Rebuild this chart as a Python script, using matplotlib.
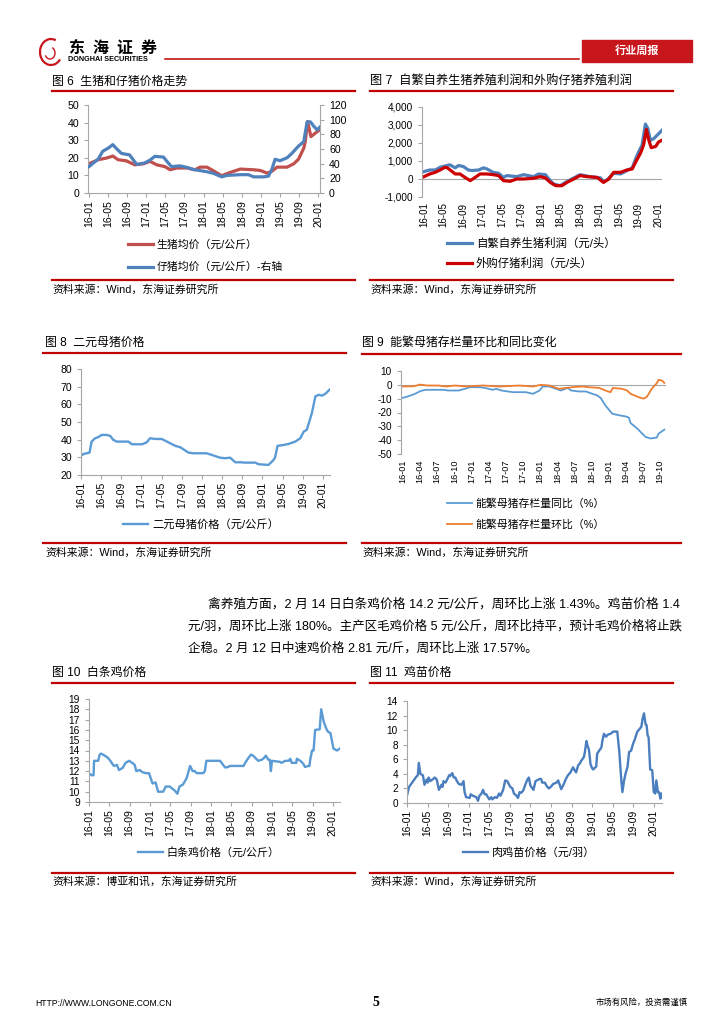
import matplotlib
matplotlib.use("Agg")
import matplotlib.pyplot as plt
from matplotlib.lines import Line2D
from matplotlib.patches import Rectangle, Arc

plt.rcParams['font.family'] = ['Liberation Sans', 'Noto Sans CJK SC']
plt.rcParams['axes.unicode_minus'] = False

W, H = 724, 1024
RED = '#C00000'
AXIS = '#A6A6A6'

# ---------------- data (x = months since 2016-01) ----------------
ticks4 = ['16-01', '16-05', '16-09', '17-01', '17-05', '17-09', '18-01',
          '18-05', '18-09', '19-01', '19-05', '19-09', '20-01']
ticks4_pos = [0, 4, 8, 12, 16, 20, 24, 28, 32, 36, 40, 44, 48]
ticks3 = ['16-01', '16-04', '16-07', '16-10', '17-01', '17-04', '17-07',
          '17-10', '18-01', '18-04', '18-07', '18-10', '19-01', '19-04',
          '19-07', '19-10']
ticks3_pos = [0, 3, 6, 9, 12, 15, 18, 21, 24, 27, 30, 33, 36, 39, 42, 45]

# fig 6
hog_m = [0, 1.9, 3.6, 5, 6.1, 7.8, 9.6, 11.4, 12.8, 14.2, 15.9, 17, 18.4,
         20.5, 22.2, 23.3, 24.7, 25.7, 27.8, 29.2, 31.7, 34.5, 35.9, 37.3,
         38.3, 39.4, 41.5, 42.9, 43.9, 45, 45.3, 45.8, 46.5, 47.4, 48.4]
hog_price = [16.6, 18.9, 19.8, 21, 18.9, 18.3, 16, 16.6, 18, 16, 15, 13.2,
             14.2, 14.2, 13.2, 14.7, 14.7, 13.2, 9.8, 11.3, 13.6, 13.2, 12.8,
             11.3, 12.3, 14.7, 14.7, 16.6, 19.2, 25.5, 29, 40.6, 32, 34, 36]
piglet_m = [0, 1.9, 2.9, 4, 5, 5.7, 6.8, 8.5, 10, 11.7, 12.8, 13.8, 15.6,
            16.6, 17.3, 19, 20.5, 21.9, 24.7, 26, 27.8, 28.9, 31.7, 33.4,
            34.5, 36.6, 37.6, 38.3, 39, 40, 41.5, 42.5, 43.9, 45, 45.7, 46.4,
            47.1, 47.8, 48.4]
piglet_price = [36, 46, 57, 61, 66, 61, 54, 52, 39, 41, 45, 50, 49, 41, 36,
                37, 35, 32, 29, 27, 22, 24, 25, 25, 22, 22, 23, 32, 46, 44,
                48, 54, 64, 70, 97, 97, 91, 86, 90]

# fig 7
self_m = [0, 1.2, 2.3, 3.3, 4.7, 5.3, 6.4, 7.1, 8.1, 9.1, 9.8, 11.2, 12.2,
          12.9, 14.2, 15.3, 16.3, 17, 19, 20.4, 22.5, 23.5, 24.9, 25.9, 26.6,
          27.9, 29, 30.3, 32, 34.1, 36.2, 36.8, 37.5, 38.9, 40.3, 41.6, 42.7,
          43.4, 44, 44.7, 45.4, 45.9, 46.4, 47.1, 47.8, 48.8]
self_profit = [410, 500, 500, 650, 750, 790, 620, 750, 690, 500, 470, 500,
               620, 560, 370, 320, 90, 190, 130, 240, 130, 280, 240, -90,
               -280, -370, -190, 0, 240, 130, 60, -150, -60, 320, 280, 470,
               620, 1120, 1500, 1870, 3050, 2800, 2150, 2240, 2430, 2710]
buy_m = [0, 1.2, 2.3, 3.3, 4.3, 4.8, 5.7, 6.4, 7.4, 8.4, 9.5, 10.5, 11.5,
         12.9, 14.2, 15.3, 16.3, 17.7, 19, 20.4, 22.5, 23.8, 24.9, 25.9, 27,
         28.3, 29.3, 30.7, 32, 33.4, 35.5, 36.8, 37.9, 38.9, 40.3, 41.6, 42.7,
         43.4, 44.4, 45, 45.6, 46.1, 46.6, 47.5, 48.1, 48.8]
buy_profit = [130, 280, 370, 500, 650, 620, 430, 280, 280, 90, -90, 90, 280,
              280, 240, 190, -90, -130, 0, 0, 40, 130, 60, -190, -370, -370,
              -190, 0, 190, 130, 90, -190, 0, 370, 370, 500, 560, 940, 1440,
              1870, 2750, 2150, 1740, 1810, 2060, 2150]

# fig 8
sow_m = [0, 0.5, 1.7, 2.1, 2.8, 3.4, 4.1, 5.1, 5.8, 6.4, 7.1, 9.4, 10.1,
         12.1, 13, 13.7, 14.7, 16, 17.4, 18.7, 19.7, 21.3, 22.3, 24.9, 25.9,
         27.6, 28.6, 29.6, 30.6, 31.6, 32.6, 34.6, 35.2, 37.2, 38.2, 38.5, 39,
         40.2, 41.2, 42.5, 43.5, 44.2, 44.8, 45.8, 46.5, 47.2, 47.8, 48.5, 49.3]
sow_price = [30.8, 31.9, 32.7, 38.9, 40.8, 41.4, 42.7, 42.7, 42.1, 39.9,
             38.9, 38.9, 37.4, 37.4, 38.4, 40.8, 40.4, 40.4, 38.4, 36.5, 35.7,
             32.7, 32.3, 32.3, 31.4, 29.8, 29.5, 29.8, 27.2, 27.2, 27.0, 27.0,
             26.1, 25.7, 28.5, 30.0, 36.5, 37.0, 37.6, 38.9, 40.8, 44.6, 45.6,
             55.0, 64.5, 65.4, 64.9, 66.0, 68.3]

# fig 9
yoy_m = [0, 1, 2.1, 3, 3.9, 5.9, 7.1, 7.9, 9.7, 10.8, 11.7, 13.4, 14.3, 15.7,
         16.3, 17.2, 19.2, 21.5, 22.7, 23.9, 24.4, 25.6, 26.8, 27.6, 28.8,
         29.4, 30.8, 32, 32.8, 34, 34.6, 35.4, 36.6, 37.8, 38.9, 39.5, 39.8,
         41, 42.4, 43.3, 44.4, 44.7, 45.7]
yoy = [-9.4, -8.2, -6.5, -4.6, -3.6, -3.6, -3.6, -4.1, -4.1, -2.9, -1.7,
       -1.7, -2.2, -3.6, -2.9, -4.1, -5.3, -5.3, -6.5, -4.1, -1.2, -1.2, -2.9,
       -4.1, -2.2, -4.1, -4.8, -4.8, -6.0, -7.7, -9.6, -14.9, -20.9, -22.0,
       -22.8, -23.7, -27.6, -31.7, -37.6, -38.8, -38.1, -35.3, -32.4]
mom_m = [0, 1.9, 3, 4.2, 6.2, 7.6, 9.1, 11.1, 14, 16.9, 20.4, 22.7, 24.1,
         25.6, 27.3, 28.5, 29.6, 31.4, 32.5, 34.3, 35.7, 36.3, 36.7, 38.3,
         39.2, 39.8, 41.2, 42.1, 42.7, 43.5, 44.4, 44.7, 45.3, 45.7]
mom = [-1.2, -1.0, 0.2, -0.5, -0.5, -1.2, -0.5, -1.2, -0.5, -1.2, -0.5, -1.2,
       0.0, -0.5, -2.9, -2.2, -1.7, -1.2, -1.7, -2.2, -4.6, -5.3, -2.2, -2.9,
       -4.1, -6.5, -8.9, -10.0, -8.4, -2.9, 1.2, 3.6, 3.1, 1.4]

# fig 10
broiler_m = [0, 0.5, 0.9, 1.0, 1.8, 2.1, 2.4, 3.1, 3.7, 4.2, 4.6, 4.9, 5.5,
             5.9, 6.6, 7.2, 7.9, 8.5, 9.0, 9.3, 10.0, 10.5, 11.2, 11.8, 12.5,
             13.1, 13.6, 14.6, 15.1, 15.9, 16.4, 16.9, 17.4, 17.8, 18.5, 19.2,
             19.9, 20.4, 20.8, 21.2, 22.5, 22.8, 23.1, 25.8, 26.4, 26.8, 27.4,
             27.7, 30.4, 31.0, 31.4, 31.9, 32.3, 32.9, 33.3, 34.0, 34.5, 34.8,
             35.3, 35.6, 35.8, 36.0, 37.6, 37.9, 38.6, 39.3, 39.6, 39.9, 40.8,
             40.9, 41.6, 42.2, 42.5, 43.2, 43.4, 43.5, 43.9, 44.2, 44.5, 45.4,
             45.7, 46.2, 46.8, 47.1, 47.5, 47.8, 48.1, 48.8, 49.1, 49.4]
broiler_price = [11.8, 11.6, 11.6, 13.0, 13.0, 13.6, 13.7, 13.5, 13.3, 13.0,
                 12.7, 12.5, 12.6, 12.1, 12.3, 12.8, 13.0, 12.8, 12.6, 12.0,
                 12.1, 11.9, 11.8, 11.8, 10.8, 10.9, 10.0, 10.0, 10.5, 10.5,
                 10.3, 10.1, 9.8, 10.5, 10.7, 11.3, 12.5, 12.0, 12.0, 11.8,
                 11.8, 12.0, 13.0, 13.0, 12.6, 12.35, 12.4, 12.5, 12.5, 13.0,
                 13.3, 13.6, 13.5, 13.2, 13.0, 13.1, 13.3, 13.5, 13.1, 13.1,
                 12.0, 13.0, 12.9, 12.8, 13.0, 13.0, 13.2, 12.8, 12.8, 13.2,
                 13.0, 12.7, 12.4, 12.5, 12.5, 13.0, 14.0, 14.0, 16.0, 16.05,
                 18.0, 16.8, 16.0, 15.8, 15.7, 15.0, 14.2, 14.0, 14.1, 14.2]

# fig 11
chick_m = [0.0, 0.4, 0.8, 1.3, 1.8, 2.1, 2.3, 2.6, 3.1, 3.4, 3.8, 4.0, 4.2,
           4.5, 5.1, 5.4, 5.8, 6.0, 6.2, 6.7, 6.9, 7.1, 7.5, 7.8, 8.2, 8.4,
           8.8, 9.1, 9.4, 9.7, 10.1, 10.6, 11.0, 11.2, 11.5, 12.2, 12.4, 12.8,
           13.5, 13.8, 14.1, 14.5, 14.8, 15.1, 15.4, 16.0, 16.4, 16.6, 17.1,
           17.5, 17.9, 18.2, 18.7, 19.1, 19.5, 20.1, 20.5, 20.8, 21.3, 21.6,
           21.9, 22.2, 22.6, 23.0, 23.4, 23.7, 24.0, 24.4, 24.6, 25.0, 25.8,
           26.1, 26.3, 26.8, 27.2, 27.6, 28.1, 28.4, 29.1, 29.4, 29.7, 30.0,
           30.5, 30.9, 31.3, 31.8, 32.0, 32.3, 32.6, 32.9, 33.3, 33.6, 33.9,
           34.4, 34.6, 34.9, 35.1, 35.4, 35.7, 36.0, 36.2, 36.5, 36.8, 37.0,
           37.5, 37.8, 38.0, 38.3, 38.7, 39.1, 39.6, 40.1, 40.9, 41.3, 41.7,
           41.9, 42.2, 42.5, 42.9, 43.2, 43.6, 44.0, 44.2, 44.8, 45.3, 45.6,
           45.8, 46.1, 46.4, 46.6, 46.8, 47.0, 47.3, 47.7, 48.0, 48.3, 48.5,
           48.8, 49.0, 49.3, 49.5]
chick_price = [1.05, 2.2, 2.6, 3.1, 3.6, 3.8, 5.5, 4.0, 3.8, 2.5, 3.2, 2.8,
               3.5, 3.0, 3.3, 3.5, 3.2, 2.5, 1.8, 2.5, 2.2, 3.0, 2.8, 3.2, 3.8,
               3.7, 4.1, 3.5, 3.5, 3.0, 2.6, 2.5, 3.0, 1.5, 0.8, 0.7, 1.2, 1.0,
               0.8, 0.3, 1.0, 1.3, 1.8, 1.2, 1.2, 0.5, 0.8, 0.5, 0.8, 0.7, 1.3,
               1.0, 1.8, 3.1, 3.0, 2.2, 2.0, 1.3, 1.0, 0.7, 1.5, 1.4, 1.7, 2.5,
               3.2, 3.5, 2.4, 2.0, 1.8, 3.0, 3.3, 3.3, 2.8, 2.8, 2.3, 2.0, 2.3,
               2.6, 2.8, 3.1, 2.5, 1.9, 2.6, 3.3, 3.8, 4.2, 4.5, 4.9, 4.5, 4.2,
               5.2, 5.4, 5.8, 6.3, 7.0, 8.5, 7.9, 7.3, 5.3, 4.8, 4.6, 4.8, 5.0,
               6.8, 7.3, 7.6, 8.5, 9.5, 9.1, 9.4, 9.5, 9.8, 9.8, 7.0, 3.0, 1.5,
               3.0, 4.0, 5.0, 7.0, 7.2, 8.2, 8.5, 9.8, 10.2, 10.5, 11.5, 12.3,
               10.8, 10.7, 9.3, 9.0, 4.6, 4.5, 1.5, 1.3, 3.1, 1.5, 1.5, 0.6,
               1.3]

paragraph = [
    "禽养殖方面，2 月 14 日白条鸡价格 14.2 元/公斤，周环比上涨 1.43%。鸡苗价格 1.4",
    "元/羽，周环比上涨 180%。主产区毛鸡价格 5 元/公斤，周环比持平，预计毛鸡价格将止跌",
    "企稳。2 月 12 日中速鸡价格 2.81 元/斤，周环比上涨 17.57%。",
]
source_wind = "资料来源：Wind，东海证券研究所"
source_boya = "资料来源：博亚和讯，东海证券研究所"

# ---------------- layout helpers ----------------
fig = plt.figure(figsize=(W / 100, H / 100), dpi=100)


def fx(x):
    return x / W


def fy(y):
    return 1 - y / H


def px_axes(l, t, r, b):
    return fig.add_axes([fx(l), fy(b), (r - l) / W, (b - t) / H])


def hline(x1, x2, y, lw=1.6, color=RED):
    fig.add_artist(Line2D([fx(x1), fx(x2)], [fy(y), fy(y)],
                          transform=fig.transFigure, color=color, lw=lw))


def frame(title, tx, ty, x1, x2, line_top, line_bot, src, sy, tfs=8.6):
    fig.text(fx(tx), fy(ty), title, fontsize=tfs, va='center', ha='left')
    hline(x1, x2, line_top)
    hline(x1, x2, line_bot)
    fig.text(fx(tx), fy(sy), src, fontsize=7.8, va='center', ha='left')


def style(ax, xlim, xpos, xlabels, xfs, ylim, yticks, ylabels, yfs,
          zero_line=False):
    ax.set_xlim(xlim)
    ax.set_ylim(ylim)
    ax.set_xticks(xpos)
    ax.set_xticklabels(xlabels, rotation=90, fontsize=xfs)
    ax.set_yticks(yticks)
    ax.set_yticklabels(ylabels, fontsize=yfs)
    for s in ('top', 'right'):
        ax.spines[s].set_visible(False)
    for s in ('left', 'bottom'):
        ax.spines[s].set_color(AXIS)
        ax.spines[s].set_linewidth(0.8)
    ax.tick_params(colors=AXIS, labelcolor='black', length=3, width=0.8)
    ax.tick_params(axis='x', pad=2)
    if zero_line:
        ax.spines['bottom'].set_visible(False)
        ax.axhline(0, color=AXIS, lw=0.8, zorder=1)
        ax.tick_params(axis='x', length=0, pad=4)


def legend(ax, x, y, spacing, fs, handles=None, labels=None):
    kw = dict(loc='upper left', bbox_to_anchor=(fx(x), fy(y)),
              bbox_transform=fig.transFigure, frameon=False, fontsize=fs,
              borderpad=0, borderaxespad=0, handlelength=25 / (fs * 1.389),
              handletextpad=0.35, labelspacing=spacing)
    if handles is None:
        ax.legend(**kw)
    else:
        ax.legend(handles, labels, **kw)


# ---------------- header ----------------
fig.add_artist(Arc((fx(51), fy(52)), 22 / W, 26 / H, theta1=60, theta2=330,
                   transform=fig.transFigure, color='#C8161D', lw=1.6))
fig.add_artist(Arc((fx(50), fy(53)), 10 / W, 12 / H, theta1=200, theta2=60,
                   transform=fig.transFigure, color='#C8161D', lw=1.0))
for i, ch in enumerate("东海证券"):
    fig.text(fx(76 + i * 24.3), fy(48), ch, fontsize=11.5, fontweight='bold',
             ha='center', va='center')
fig.text(fx(68), fy(59.5), "DONGHAI SECURITIES", fontsize=5.2,
         fontweight='bold', ha='left', va='center')
hline(165, 579, 59, lw=1.1)
fig.add_artist(Rectangle((fx(582), fy(62)), 110 / W, 22 / H,
                         transform=fig.transFigure, color='#C8161D'))
fig.text(fx(637), fy(51), "行业周报", fontsize=8, fontweight='bold',
         color='white', ha='center', va='center')

# ---------------- fig 6 ----------------
frame("图 6  生猪和仔猪价格走势", 52, 82, 52, 355, 91, 280, source_wind, 290)
ax6 = px_axes(88, 105, 320, 193)
ax6.plot(hog_m, hog_price, color='#C0504D', lw=2.3, label='生猪均价（元/公斤）')
style(ax6, (-0.2, 48.4), ticks4_pos, ticks4, 7.6, (0, 50),
      [0, 10, 20, 30, 40, 50], ['0', '10', '20', '30', '40', '50'], 7.6)
ax6b = ax6.twinx()
ax6b.plot(piglet_m, piglet_price, color='#4F81BD', lw=2.3,
          label='仔猪均价（元/公斤）-右轴')
ax6b.set_ylim(0, 120)
ax6b.set_yticks([0, 20, 40, 60, 80, 100, 120])
ax6b.set_yticklabels(['0', '20', '40', '60', '80', '100', '120'], fontsize=7.6)
for s in ('top', 'left', 'bottom'):
    ax6b.spines[s].set_visible(False)
ax6b.spines['right'].set_color(AXIS)
ax6b.spines['right'].set_linewidth(0.8)
ax6b.tick_params(colors=AXIS, labelcolor='black', length=3, width=0.8)
h1, l1 = ax6.get_legend_handles_labels()
h2, l2 = ax6b.get_legend_handles_labels()
legend(ax6b, 128, 239, 1.15, 7.8, h1 + h2, l1 + l2)

# ---------------- fig 7 ----------------
frame("图 7  自繁自养生猪养殖利润和外购仔猪养殖利润", 370, 82, 370, 673, 91, 280,
      source_wind, 290, tfs=8.8)
ax7 = px_axes(422, 107, 662, 197)
ax7.plot(self_m, self_profit, color='#4F81BD', lw=2.3, label='自繁自养生猪利润（元/头）')
ax7.plot(buy_m, buy_profit, color='#CC0000', lw=2.3, label='外购仔猪利润（元/头）')
style(ax7, (-0.4, 48.8), ticks4_pos, ticks4, 7.0, (-1000, 4000),
      [-1000, 0, 1000, 2000, 3000, 4000],
      ['-1,000', '0', '1,000', '2,000', '3,000', '4,000'], 7.2, zero_line=True)
legend(ax7, 447, 238, 0.75, 8.2)

# ---------------- fig 8 ----------------
frame("图 8  二元母猪价格", 45, 343, 43, 346, 353, 543, source_wind, 553)
ax8 = px_axes(81, 369, 330, 475)
ax8.plot(sow_m, sow_price, color='#5B9BD5', lw=1.7, label='二元母猪价格（元/公斤）')
style(ax8, (0, 49.4), ticks4_pos, ticks4, 7.4, (20, 80),
      [20, 30, 40, 50, 60, 70, 80], ['20', '30', '40', '50', '60', '70', '80'],
      7.6)
legend(ax8, 123, 519, 1.0, 8.1)

# ---------------- fig 9 ----------------
frame("图 9  能繁母猪存栏量环比和同比变化", 362, 343, 362, 681, 354, 543,
      source_wind, 553)
ax9 = px_axes(401, 371, 666, 454)
ax9.plot(yoy_m, yoy, color='#5B9BD5', lw=1.3, label='能繁母猪存栏量同比（%）')
ax9.plot(mom_m, mom, color='#ED7D31', lw=1.3, label='能繁母猪存栏量环比（%）')
style(ax9, (-0.35, 46), ticks3_pos, ticks3, 6.6, (-50, 10),
      [-50, -40, -30, -20, -10, 0, 10],
      ['-50', '-40', '-30', '-20', '-10', '0', '10'], 7.2, zero_line=True)
legend(ax9, 447, 498, 1.0, 7.8)

# ---------------- fig 10 ----------------
frame("图 10  白条鸡价格", 52, 673, 52, 355, 683, 873, source_boya, 882)
ax10 = px_axes(89, 699, 340, 802)
ax10.plot(broiler_m, broiler_price, color='#5B9BD5', lw=1.7,
          label='白条鸡价格（元/公斤）')
style(ax10, (0, 49.4), ticks4_pos, ticks4, 7.6, (9, 19),
      list(range(9, 20)), [str(v) for v in range(9, 20)], 7.4)
legend(ax10, 138, 847, 1.0, 7.9)

# ---------------- fig 11 ----------------
frame("图 11  鸡苗价格", 370, 673, 370, 673, 683, 873, source_wind, 882)
ax11 = px_axes(407, 701, 662, 803)
ax11.plot(chick_m, chick_price, color='#4A7EBF', lw=1.7, label='肉鸡苗价格（元/羽）')
style(ax11, (0, 49.6), ticks4_pos, ticks4, 7.4, (0, 14),
      [0, 2, 4, 6, 8, 10, 12, 14], ['0', '2', '4', '6', '8', '10', '12', '14'],
      7.2)
legend(ax11, 463, 847, 1.0, 8.0)

# ---------------- body text ----------------
fig.text(fx(208), fy(604), paragraph[0], fontsize=9.2, va='center')
fig.text(fx(188), fy(626), paragraph[1], fontsize=9.0, va='center')
fig.text(fx(188), fy(648), paragraph[2], fontsize=9.0, va='center')

# ---------------- footer ----------------
fig.text(fx(35), fy(1003), "HTTP://WWW.LONGONE.COM.CN", fontsize=6.2,
         va='center')
fig.text(fx(376), fy(1002), "5", fontsize=10, fontweight='bold',
         family='Liberation Serif', ha='center', va='center')
fig.text(fx(688), fy(1003), "市场有风险，投资需谨慎", fontsize=6, ha='right',
         va='center')

fig.savefig("out.png", dpi=100)
